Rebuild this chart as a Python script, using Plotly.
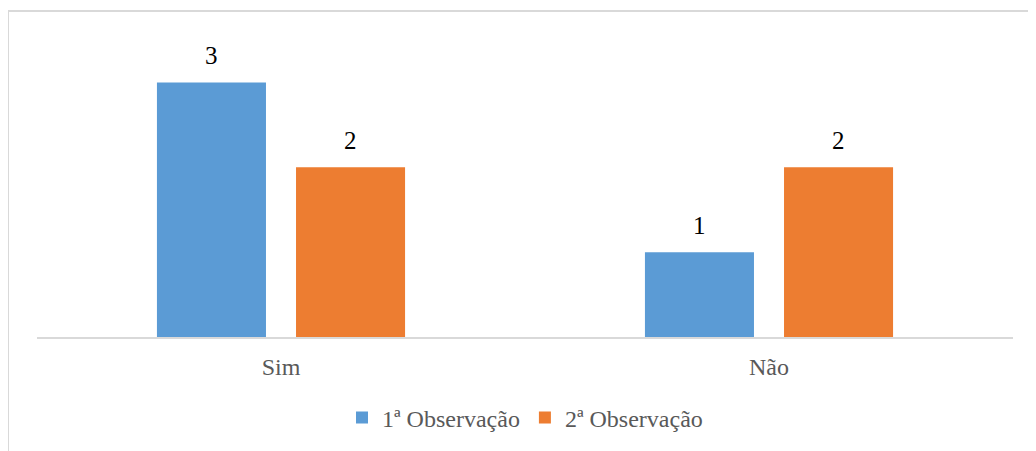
import plotly.graph_objects as go

categories = ["Sim", "Não"]
series_names = ["1ª Observação", "2ª Observação"]
obs1 = [3, 1]
obs2 = [2, 2]
colors = ["#5B9BD5", "#ED7D31"]

OFF = 8  # default page body margin
W, H = 1036 - OFF, 451 - OFF
ML, MR, MT, MB = 37 - OFF, 23, 40 - OFF, 113
pw, ph = W - ML - MR, H - MT - MB

def px_x(p):
    return (p - OFF - ML) / pw

def px_y(p):
    return (H - MB - (p - OFF)) / ph

fig = go.Figure()
for name, vals, col in zip(series_names, [obs1, obs2], colors):
    fig.add_trace(go.Bar(x=categories, y=vals, name=name, marker=dict(color=col, line=dict(width=0))))

font_family = "'Times New Roman', 'Liberation Serif', 'DejaVu Serif', serif"
annotations = []
slot_px = (pw / len(categories)) * (1 - 0.43) / 2
for i, vals in enumerate([obs1, obs2]):
    shift = (i - 0.5) * slot_px
    for c, v in zip(categories, vals):
        annotations.append(dict(x=c, y=v, xref="x", yref="y", text=str(v), showarrow=False,
                                xshift=shift, yshift=27, font=dict(size=25, color="#000000", family=font_family)))

fig.update_layout(
    width=W, height=H,
    margin=dict(l=ML, r=MR, t=MT, b=MB),
    paper_bgcolor="white", plot_bgcolor="white",
    barmode="group", bargap=0.43, bargroupgap=0.216,
    font=dict(family=font_family, color="#595959", size=24),
    xaxis=dict(showline=True, linecolor="#d9d9d9", linewidth=2, showgrid=False, zeroline=False,
               ticks="outside", ticklen=7, tickcolor="rgba(0,0,0,0)",
               tickfont=dict(size=24, color="#595959", family=font_family)),
    yaxis=dict(range=[0, 3.5], visible=False, showgrid=False, zeroline=False),
    showlegend=True,
    legend=dict(orientation="h", x=0.5, xanchor="center", y=px_y(418), yanchor="middle",
                font=dict(size=24, color="#595959", family=font_family), traceorder="normal"),
    annotations=annotations,
    shapes=[
        dict(type="line", xref="paper", yref="paper", x0=px_x(8), x1=px_x(8), y0=px_y(11), y1=px_y(470),
             line=dict(color="#d9d9d9", width=2)),
        dict(type="line", xref="paper", yref="paper", x0=px_x(8), x1=px_x(1050), y0=px_y(11), y1=px_y(11),
             line=dict(color="#d9d9d9", width=2)),
    ],
)

fig.write_html("out.html")
